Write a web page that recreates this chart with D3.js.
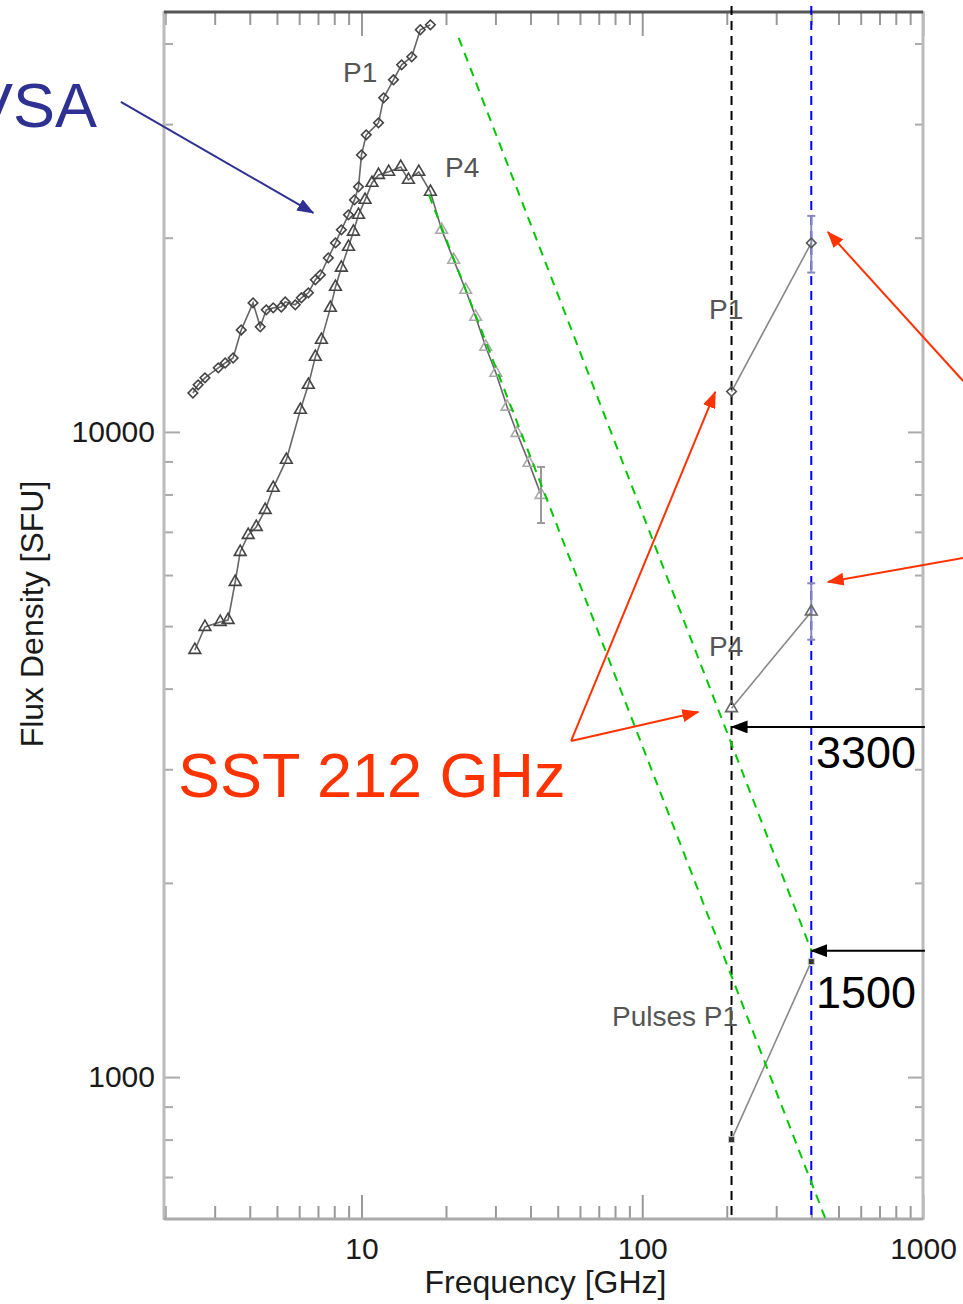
<!DOCTYPE html>
<html>
<head>
<meta charset="utf-8">
<script src="https://d3js.org/d3.v7.min.js"></script>
<style>
  body { margin: 0; background: #fff; }
  svg { display: block; font-family: "Liberation Sans", Arial, sans-serif; }
</style>
</head>
<body>
<svg width="963" height="1304"></svg>
<script>
// ---- data ----
var p1Freq = [2.51, 2.62, 2.77, 3.09, 3.27, 3.49, 3.73, 4.11, 4.36, 4.58, 4.85, 5.18, 5.35, 5.81, 6.11, 6.47, 6.85,
  7.14, 7.62, 8.08, 8.48, 8.99, 9.44, 9.76, 10.0, 10.4, 11.5, 12.0, 13.0, 13.9, 15.1, 16.2, 17.6];
var p1Flux = [11490, 11830, 12130, 12570, 12790, 13020, 14390, 15850, 14550, 15460, 15570, 15620, 15900, 15740,
  16140, 16430, 17210, 17520, 18610, 19630, 20570, 21700, 22890, 23980, 26880, 28870, 30140, 32950, 35140, 37070,
  38140, 42010, 42760];

var p4Freq = [2.55, 2.77, 3.14, 3.35, 3.55, 3.70, 3.95, 4.22, 4.54, 4.85, 5.40, 6.06, 6.47, 6.85, 7.20, 7.75, 8.08,
  8.48, 8.99, 9.36, 9.76, 10.3, 10.9, 11.5, 12.5, 13.8, 14.7, 16.0, 17.6, 19.3, 21.3, 23.5, 25.5, 27.7, 30.1, 33.0,
  35.8, 39.5, 43.6];
var p4Flux = [4592, 4985, 5075, 5111, 5853, 6516, 6922, 7123, 7570, 8189, 9050, 10820, 11830, 13070, 13890, 15570,
  16780, 17970, 19360, 20430, 21700, 22890, 24320, 25020, 25300, 25750, 24590, 25300, 23560, 20570, 18480, 16600,
  15080, 13550, 12350, 10940, 9964, 8953, 7986];
var p4ErrFreq = [43.6], p4ErrLo = [7224], p4ErrHi = [8825];

// SST 212 / 405 GHz
var sstFreq = [208, 400];
var sstP1Flux = [11550, 19630];
var sstP4Flux = [3730, 5265];
var pulseFlux = [800, 1510];
var sstErrFreq = [400, 400], sstErrLo = [17660, 4764], sstErrHi = [21620, 5827];

// power-law lines
var fitAFreq = [17.4, 454], fitAFlux = [23300, 596];
var fitBFreq = [22.2, 402], fitBFlux = [40800, 1563];

// marked flux levels
var levelFlux = [3490, 1570], levelText = ["3300", "1500"], levelFreq = [208, 400];

var xMajor = [10, 100, 1000];
var xMinor = [2, 3, 4, 5, 6, 7, 8, 9, 20, 30, 40, 50, 60, 70, 80, 90, 200, 300, 400, 500, 600, 700, 800, 900];
var yMajor = [1000, 10000];
var yMinor = [700, 800, 900, 2000, 3000, 4000, 5000, 6000, 7000, 8000, 9000, 20000, 30000, 40000];

// ---- layout ----
var svg = d3.select("svg"),
    pL = 164, pR = 923, pT = 12, pB = 1219;

var x = d3.scaleLog().domain([1.98, 1000]).range([pL, pR]);
var y = d3.scaleLog().domain([602.6, 44760]).range([pB, pT]);

svg.append("rect").attr("width", 963).attr("height", 1304).attr("fill", "#fff");

var defs = svg.append("defs");
function head(id, color) {
  defs.append("marker")
      .attr("id", id)
      .attr("viewBox", "0 0 17 13")
      .attr("refX", 16).attr("refY", 6.5)
      .attr("markerWidth", 17).attr("markerHeight", 13)
      .attr("markerUnits", "userSpaceOnUse")
      .attr("orient", "auto")
    .append("path")
      .attr("d", "M0,0L17,6.5L0,13Z")
      .attr("fill", color);
}
head("hBlue", "#2e3192");
head("hRed", "#ff3300");
head("hBlack", "#000");

// ---- axes ----
function styleTicks(g, color) {
  g.select(".domain").remove();
  g.selectAll(".tick line").attr("stroke", color).attr("stroke-width", 2);
  g.selectAll(".tick text").attr("fill", "#1a1a1a").style("font-size", "30px").style("font-family", "Liberation Sans, Arial, sans-serif");
}

svg.append("g").attr("transform", "translate(0," + pB + ")")
    .call(d3.axisBottom(x).tickValues(xMinor).tickSize(-13).tickFormat(""))
    .call(styleTicks, "#999");
svg.append("g").attr("transform", "translate(0," + pB + ")")
    .call(d3.axisBottom(x).tickValues(xMajor).tickSize(-24).tickPadding(19).tickFormat(d3.format("d")))
    .call(styleTicks, "#999");
svg.append("g").attr("transform", "translate(0," + pT + ")")
    .call(d3.axisTop(x).tickValues(xMinor).tickSize(-13).tickFormat(""))
    .call(styleTicks, "#999");
svg.append("g").attr("transform", "translate(0," + pT + ")")
    .call(d3.axisTop(x).tickValues(xMajor).tickSize(-24).tickFormat(""))
    .call(styleTicks, "#999");

svg.append("g").attr("transform", "translate(" + pL + ",0)")
    .call(d3.axisLeft(y).tickValues(yMinor).tickSize(-9).tickFormat(""))
    .call(styleTicks, "#aaa");
svg.append("g").attr("transform", "translate(" + pL + ",0)")
    .call(d3.axisLeft(y).tickValues(yMajor).tickSize(-16).tickPadding(9).tickFormat(d3.format("d")))
    .call(styleTicks, "#aaa");
svg.append("g").attr("transform", "translate(" + pR + ",0)")
    .call(d3.axisRight(y).tickValues(yMinor).tickSize(-8).tickFormat(""))
    .call(styleTicks, "#aaa");
svg.append("g").attr("transform", "translate(" + pR + ",0)")
    .call(d3.axisRight(y).tickValues(yMajor).tickSize(-15).tickFormat(""))
    .call(styleTicks, "#aaa");

// frame
svg.append("line").attr("x1", pL).attr("x2", pL).attr("y1", pT - 1).attr("y2", pB + 1)
    .attr("stroke", "#bbb").attr("stroke-width", 3);
svg.append("line").attr("x1", pR).attr("x2", pR).attr("y1", pT - 1).attr("y2", pB + 1)
    .attr("stroke", "#bbb").attr("stroke-width", 3);
svg.append("line").attr("x1", pL).attr("x2", pR).attr("y1", pB).attr("y2", pB)
    .attr("stroke", "#aaa").attr("stroke-width", 3);
svg.append("line").attr("x1", pL).attr("x2", pR).attr("y1", pT).attr("y2", pT)
    .attr("stroke", "#555").attr("stroke-width", 3);

// axis titles
svg.append("text").attr("x", (pL + pR) / 2 + 2).attr("y", 1293)
    .attr("text-anchor", "middle").attr("fill", "#1a1a1a").style("font-size", "32px")
    .text("Frequency [GHz]");
svg.append("text").attr("transform", "translate(43,614) rotate(-90)")
    .attr("text-anchor", "middle").attr("fill", "#1a1a1a").style("font-size", "32px")
    .text("Flux Density [SFU]");

// ---- vertical SST frequency lines ----
svg.selectAll(".sst").data(sstFreq).enter().append("line")
    .attr("x1", function(d) { return x(d); }).attr("x2", function(d) { return x(d); })
    .attr("y1", 6).attr("y2", pB)
    .attr("stroke", function(d, i) { return i === 0 ? "#000" : "#0000ff"; })
    .attr("stroke-width", 2)
    .attr("stroke-dasharray", "9,6");

// ---- series ----
var line = d3.line().x(function(d) { return x(d.f); }).y(function(d) { return y(d.s); });
function pts(fs, ss) { return fs.map(function(f, i) { return { f: f, s: ss[i] }; }); }

var p1 = pts(p1Freq, p1Flux), p4 = pts(p4Freq, p4Flux);
var diamond = d3.symbol().type(d3.symbolSquare).size(46);
var tri = d3.symbol().type(d3.symbolTriangle).size(60);

function drawSeries(data, sym, rot, faintFrom) {
  svg.append("path").datum(data).attr("d", line)
      .attr("fill", "none").attr("stroke", "#666").attr("stroke-width", 1.6);
  svg.selectAll(null).data(data).enter().append("path")
      .attr("d", sym)
      .attr("transform", function(d) { return "translate(" + x(d.f) + "," + y(d.s) + ") rotate(" + rot + ")"; })
      .attr("fill", "none")
      .attr("stroke", function(d) { return d.f > faintFrom ? "#aaa" : "#444"; })
      .attr("stroke-width", 1.6);
}
drawSeries(p1, diamond, 45, 1e9);
drawSeries(p4, tri, 0, 18);

// error bars
function errBars(fs, lo, hi, color) {
  var g = svg.append("g").attr("stroke", color).attr("stroke-width", 2);
  fs.forEach(function(f, i) {
    var cx = x(f);
    g.append("line").attr("x1", cx).attr("x2", cx).attr("y1", y(lo[i])).attr("y2", y(hi[i]));
    g.append("line").attr("x1", cx - 4).attr("x2", cx + 4).attr("y1", y(lo[i])).attr("y2", y(lo[i]));
    g.append("line").attr("x1", cx - 4).attr("x2", cx + 4).attr("y1", y(hi[i])).attr("y2", y(hi[i]));
  });
}
errBars(p4ErrFreq, p4ErrLo, p4ErrHi, "#999");
errBars(sstErrFreq, sstErrLo, sstErrHi, "#8888bb");

var sstP1 = pts(sstFreq, sstP1Flux), sstP4 = pts(sstFreq, sstP4Flux), pulses = pts(sstFreq, pulseFlux);
[sstP1, sstP4, pulses].forEach(function(data) {
  svg.append("path").datum(data).attr("d", line)
      .attr("fill", "none").attr("stroke", "#888").attr("stroke-width", 1.6);
});
svg.selectAll(null).data(sstP1).enter().append("path")
    .attr("d", diamond)
    .attr("transform", function(d) { return "translate(" + x(d.f) + "," + y(d.s) + ") rotate(45)"; })
    .attr("fill", "none").attr("stroke", "#555").attr("stroke-width", 1.6);
svg.selectAll(null).data(sstP4).enter().append("path")
    .attr("d", tri)
    .attr("transform", function(d) { return "translate(" + x(d.f) + "," + y(d.s) + ")"; })
    .attr("fill", "none").attr("stroke", "#666").attr("stroke-width", 1.6);
svg.selectAll(null).data(pulses).enter().append("rect")
    .attr("x", function(d) { return x(d.f) - 3; })
    .attr("y", function(d) { return y(d.s) - 3; })
    .attr("width", 6).attr("height", 6)
    .attr("fill", "#333").attr("stroke", "#ccc").attr("stroke-width", 1);

// power-law fits
[[fitAFreq, fitAFlux], [fitBFreq, fitBFlux]].forEach(function(ln) {
  svg.append("path").datum(pts(ln[0], ln[1])).attr("d", line)
      .attr("fill", "none").attr("stroke", "#00c800").attr("stroke-width", 2)
      .attr("stroke-dasharray", "9,7");
});

// series labels
var labels = [
  { t: "P1", x: 343, y: 82 },
  { t: "P4", x: 445, y: 177 },
  { t: "P1", x: 709, y: 319 },
  { t: "P4", x: 709, y: 656 },
  { t: "Pulses P1", x: 612, y: 1026 }
];
svg.selectAll(null).data(labels).enter().append("text")
    .attr("x", function(d) { return d.x; }).attr("y", function(d) { return d.y; })
    .attr("fill", "#555").style("font-size", "28px")
    .text(function(d) { return d.t; });

// ---- annotations ----
function arrow(f0, s0, f1, s1, color, id) {
  svg.append("line")
      .attr("x1", x(f0)).attr("y1", y(s0)).attr("x2", x(f1)).attr("y2", y(s1))
      .attr("stroke", color).attr("stroke-width", 2)
      .attr("marker-end", "url(#" + id + ")");
}
// OVSA
arrow(1.39, 32480, 6.74, 21850, "#2e3192", "hBlue");
svg.append("text").attr("x", 97).attr("y", 127).attr("text-anchor", "end")
    .attr("fill", "#2e3192").style("font-size", "63px").text("OVSA");

// SST 212 GHz
arrow(55.8, 3319, 182, 11535, "#ff3300", "hRed");
arrow(55.8, 3319, 158.5, 3680, "#ff3300", "hRed");
arrow(1390, 11995, 458, 20420, "#ff3300", "hRed");
arrow(1390, 6378, 458, 5853, "#ff3300", "hRed");
svg.append("text").attr("x", 178).attr("y", 797)
    .attr("fill", "#ff3300").style("font-size", "63px").text("SST 212 GHz");

// flux levels
var levelDy = [41, 57];
levelFlux.forEach(function(s, i) {
  arrow(1016, s, levelFreq[i], s, "#000", "hBlack");
  svg.append("text").attr("x", 816).attr("y", y(s) + levelDy[i])
      .attr("fill", "#000").style("font-size", "45px").text(levelText[i]);
});
</script>
</body>
</html>
